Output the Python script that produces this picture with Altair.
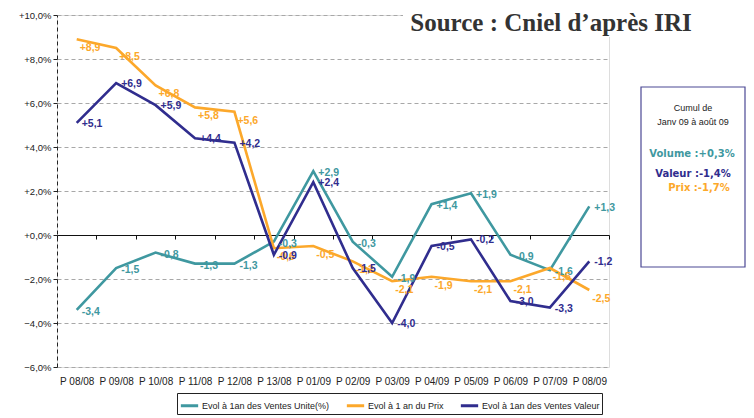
import altair as alt
import pandas as pd

categories = ["P 08/08", "P 09/08", "P 10/08", "P 11/08", "P 12/08", "P 13/08", "P 01/09",
              "P 02/09", "P 03/09", "P 04/09", "P 05/09", "P 06/09", "P 07/09", "P 08/09"]
unite = [-3.4, -1.5, -0.8, -1.3, -1.3, -0.3, 2.9, -0.3, -1.9, 1.4, 1.9, -0.9, -1.6, 1.3]
prix = [8.9, 8.5, 6.8, 5.8, 5.6, -0.6, -0.5, -1.2, -2.1, -1.9, -2.1, -2.1, -1.5, -2.5]
valeur = [5.1, 6.9, 5.9, 4.4, 4.2, -0.9, 2.4, -1.5, -4.0, -0.5, -0.2, -3.0, -3.3, -1.2]

series_names = ["Evol à 1an des Ventes Unite(%)", "Evol à 1 an du Prix", "Evol à 1an des Ventes Valeur"]
series_colors = ["#3f98a0", "#fca82b", "#302d8e"]
y_ticks = [-6, -4, -2, 0, 2, 4, 6, 8, 10]

rows = []
for name, vals in zip(series_names, [unite, prix, valeur]):
    for i, (c, v) in enumerate(zip(categories, vals)):
        rows.append({"serie": name, "cat": c, "idx": i, "val": v,
                     "lab": f"{v:+.1f}".replace(".", ",")})
df = pd.DataFrame(rows)

n = len(categories)
W, H = 552, 352
x_scale = alt.Scale(domain=[-0.5, n - 0.5], nice=False, zero=False)
y_scale = alt.Scale(domain=[-6, 10], nice=False, zero=False)
color_scale = alt.Scale(domain=series_names, range=series_colors)
color = alt.Color("serie:N", sort=series_names, scale=color_scale,
                  legend=alt.Legend(title=None, orient="none", legendX=120, legendY=378,
                                    direction="horizontal", symbolType="stroke",
                                    symbolStrokeWidth=3, symbolSize=300,
                                    labelFont="Liberation Sans", labelFontSize=9,
                                    labelColor="#222", strokeColor="#222", padding=2,
                                    columnPadding=10, labelOffset=2, labelLimit=300))

y_axis = alt.Axis(values=y_ticks, grid=True, gridDash=[4, 3], gridColor="#a8a8a8",
                  domainDash=[4, 3], domainColor="#222", tickColor="#222", tickSize=4,
                  labelExpr="(datum.value>=0?'+':'') + replace(format(datum.value,'.1f'),'.',',') + '%'",
                  labelFont="Liberation Sans", labelFontSize=9.5, labelColor="#222",
                  labelPadding=2, title=None)

tick_axis = alt.Axis(orient="bottom", offset=-(H * 6 / 16), values=[i - 0.5 for i in range(n + 1)],
                     labels=False, ticks=True, tickSize=4, tickColor="#111",
                     domainColor="#111", domainWidth=1, grid=False, title=None)

cat_js = "[" + ",".join(f"'{c}'" for c in categories) + "]"
label_axis = alt.Axis(orient="bottom", values=list(range(n)), labelExpr=f"{cat_js}[datum.value]",
                      ticks=False, domain=False, grid=False, labelPadding=9,
                      labelFont="Liberation Sans", labelFontSize=10, labelColor="#222",
                      labelAngle=0, title=None)

lines = alt.Chart(df).mark_line(strokeWidth=2.6).encode(
    x=alt.X("idx:Q", scale=x_scale, axis=tick_axis),
    y=alt.Y("val:Q", scale=y_scale, axis=y_axis),
    color=color,
    order=alt.Order("idx:Q"),
)

label_offsets = {series_names[0]: (5, 2), series_names[1]: (3, 9), series_names[2]: (5, 1)}
label_layers = []
for k, name in enumerate(series_names):
    dx, dy = label_offsets[name]
    lay = alt.Chart(df[df["serie"] == name]).mark_text(
        align="left", baseline="middle", dx=dx, dy=dy, color=series_colors[k],
        font="Liberation Sans", fontWeight="bold", fontSize=10.5).encode(
        x=alt.X("idx:Q", scale=x_scale, axis=label_axis if k == 0 else None),
        y=alt.Y("val:Q", scale=y_scale),
        text="lab:N",
    )
    label_layers.append(lay)

title_bg = alt.Chart(pd.DataFrame({"a": [0]})).mark_rect(fill="white").encode(
    x=alt.value(346), x2=alt.value(645), y=alt.value(-6), y2=alt.value(22))
title = alt.Chart(pd.DataFrame({"t": ["Source : Cniel d\u2019après IRI"]})).mark_text(
    font="Liberation Serif", fontWeight="bold", fontSize=25, color="#333",
    align="center", baseline="alphabetic").encode(
    x=alt.value(494), y=alt.value(16), text="t:N")

box = alt.Chart(pd.DataFrame({"a": [0]})).mark_rect(fill="white", stroke="#4b4894", strokeWidth=1.2).encode(
    x=alt.value(584), x2=alt.value(688), y=alt.value(72), y2=alt.value(252))

box_lines = ["Cumul de", "Janv 09 à août 09"]
box_small = alt.Chart(pd.DataFrame({"t": box_lines, "yy": [93, 107]})).mark_text(
    font="Liberation Sans", fontSize=9, color="#222", align="center", baseline="middle").encode(
    x=alt.value(636), y=alt.Y("yy:Q", scale=None), text="t:N")

summary_text = ["Volume :+0,3%", "Valeur :-1,4%", "Prix :-1,7%"]
summary_colors = ["#3f98a0", "#302d8e", "#fca82b"]
b1 = alt.Chart(pd.DataFrame({"t": [summary_text[0]]})).mark_text(
    font="DejaVu Sans", fontWeight="bold", fontSize=10, color=summary_colors[0],
    align="center", baseline="middle").encode(x=alt.value(635), y=alt.value(139), text="t:N")
b2 = alt.Chart(pd.DataFrame({"t": [summary_text[1]]})).mark_text(
    font="DejaVu Sans", fontWeight="bold", fontSize=10, color=summary_colors[1],
    align="center", baseline="middle").encode(x=alt.value(636), y=alt.value(159), text="t:N")
b3 = alt.Chart(pd.DataFrame({"t": [summary_text[2]]})).mark_text(
    font="DejaVu Sans", fontWeight="bold", fontSize=10, color=summary_colors[2],
    align="center", baseline="middle").encode(x=alt.value(642), y=alt.value(173), text="t:N")

chart = alt.layer(lines, *label_layers, title_bg, title, box, box_small, b1, b2, b3).resolve_axis(
    x="independent").properties(
    width=W, height=H,
    autosize=alt.AutoSizeParams(type="none"),
    padding={"left": 49, "top": 7, "right": 137, "bottom": 50},
).configure_view(stroke=None).configure(background="white")

chart.save("out.html", embed_options={"renderer": "svg", "actions": False})
